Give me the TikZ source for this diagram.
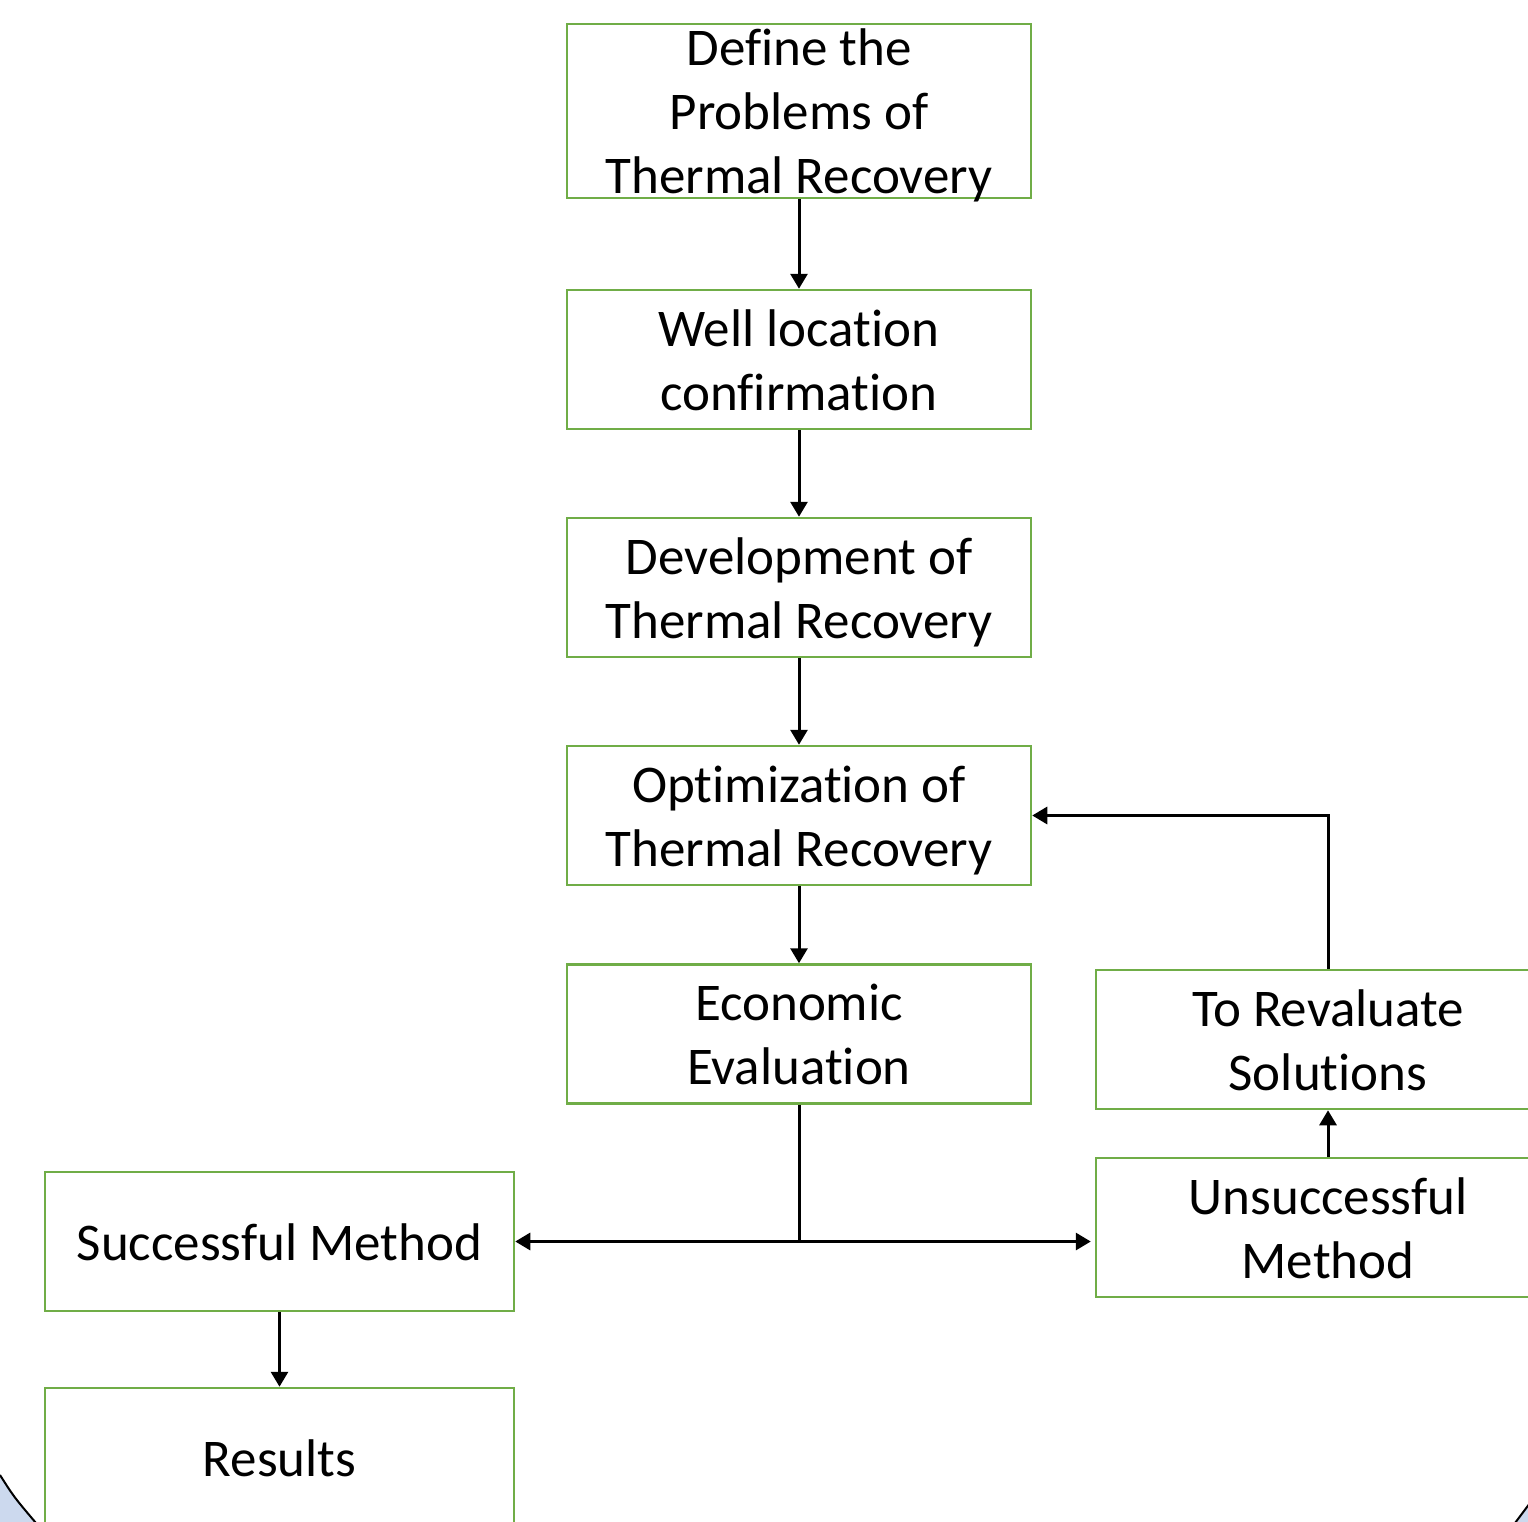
\documentclass[tikz,border=0pt]{standalone}
\usepackage{fontspec}
\setmainfont{Carlito}[Ligatures=CommonOff]
\usetikzlibrary{arrows.meta}
\definecolor{boxgreen}{RGB}{112,173,71}
\definecolor{slideblue}{RGB}{204,217,238}
\newcommand{\bstrut}{\rule[-13pt]{0pt}{63pt}}

\begin{document}
\begin{tikzpicture}[x=1pt, y=-1pt,
    box/.style={draw=boxgreen, line width=2.5pt, minimum width=464pt, minimum height=139pt,
        inner sep=0pt, align=center, font=\fontsize{53}{64}\selectfont},
    conn/.style={line width=3pt},
    >={Triangle[length=15pt, width=17pt]}]
    \clip (0,0) rectangle (1528,1521);

    % Corners of the slide shape behind
    \fill[slideblue] (0,1475) .. controls (14,1497) .. (36,1523) -- (0,1523) -- cycle;
    \draw[line width=2pt] (0,1475) .. controls (14,1497) .. (36,1523);
    \fill[slideblue] (1530,1503) -- (1515,1523) -- (1530,1523) -- cycle;
    \draw[line width=2pt] (1530,1503) -- (1515,1523);

    % Main column
    \node[box, minimum height=174pt, inner ysep=-10pt] (define) at (799,111) {\bstrut Define the\\\bstrut Problems of\\\bstrut Thermal Recovery};
    \node[box] (wellloc) at (799,359.5) {\bstrut Well location\\\bstrut confirmation};
    \node[box] (develop) at (799,587.5) {\bstrut Development of\\\bstrut Thermal Recovery};
    \node[box] (optim) at (799,815.5) {\bstrut Optimization of\\\bstrut Thermal Recovery};
    \node[box] (econ) at (799,1034) {\bstrut Economic\\\bstrut Evaluation};

    % Right branch
    \node[box] (revalue) at (1328,1039.5) {\bstrut To Revaluate\\\bstrut Solutions};
    \node[box] (unsucc) at (1328,1227.5) {\bstrut Unsuccessful\\\bstrut Method};

    % Left branch
    \node[box, minimum width=469pt] (succ) at (279.5,1241.5) {\bstrut Successful Method};
    \node[box, minimum width=469pt] (results) at (279.5,1457.5) {\bstrut Results};

    % Arrows
    \draw[conn, ->] (define) -- (wellloc);
    \draw[conn, ->] (wellloc) -- (develop);
    \draw[conn, ->] (develop) -- (optim);
    \draw[conn, ->] (optim) -- (econ);
    \coordinate (split) at (econ.south |- succ.east);
    \draw[conn] (econ) -- (split);
    \draw[conn, ->] (split) -- (succ);
    \draw[conn, ->] (split) -- ([xshift=-4pt]split -| unsucc.west);
    \draw[conn, ->] (unsucc) -- (revalue);
    \draw[conn, ->] (revalue.north) |- (optim);
    \draw[conn, ->] (succ) -- (results);
\end{tikzpicture}
\end{document}
